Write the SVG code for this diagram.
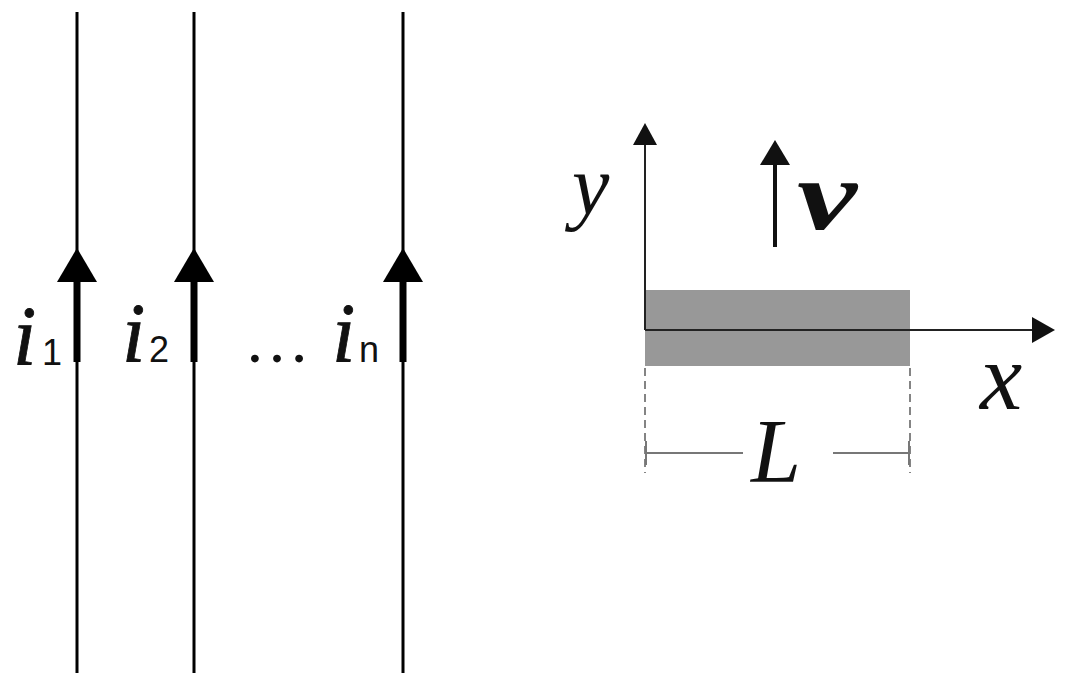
<svg xmlns="http://www.w3.org/2000/svg" width="1068" height="686" viewBox="0 0 1068 686">
<style>
.wire{stroke:#000;stroke-width:3;fill:none}
.thick{stroke:#000;stroke-width:7;fill:none}
.ax{stroke:#222;stroke-width:2;fill:none}
.dash{stroke:#666;stroke-width:1.6;stroke-dasharray:8 5;fill:none}
.dim{stroke:#777;stroke-width:2;fill:none}
.it{font-family:'Liberation Serif','DejaVu Serif',serif;font-style:italic;fill:#111}
.sub{font-family:'Liberation Sans',Arial,sans-serif;fill:#111}
</style>
<rect width="1068" height="686" fill="#fff"/>
<g id="wires">
<g id="wire1">
<line class="wire" x1="77" y1="12" x2="77" y2="673"/>
<line class="thick" x1="77" y1="280" x2="77" y2="362"/>
<polygon points="77,248 57,282 97,282" fill="#000"/>
<text class="it" x="13" y="365" font-size="84" stroke="#111" stroke-width="0.8">i</text>
<text class="sub" x="42" y="365" font-size="36">1</text>
</g>
<g id="wire2">
<line class="wire" x1="194" y1="12" x2="194" y2="673"/>
<line class="thick" x1="194" y1="280" x2="194" y2="362"/>
<polygon points="194,248 174,282 214,282" fill="#000"/>
<text class="it" x="122" y="362" font-size="84" stroke="#111" stroke-width="0.8">i</text>
<text class="sub" x="149" y="362" font-size="36">2</text>
</g>
<text id="ellipsis" x="244" y="362" font-size="66" font-family="'Liberation Serif','DejaVu Serif',serif" fill="#111">…</text>
<g id="wire3">
<line class="wire" x1="403" y1="12" x2="403" y2="673"/>
<line class="thick" x1="403" y1="280" x2="403" y2="362"/>
<polygon points="403,248 383,282 423,282" fill="#000"/>
<text class="it" x="332" y="362" font-size="84" stroke="#111" stroke-width="0.8">i</text>
<text class="sub" x="359" y="362" font-size="36">n</text>
</g>
</g>
<g id="bar">
<rect x="645" y="290" width="265" height="76" fill="#989898"/>
</g>
<g id="axes">
<line class="ax" x1="645" y1="330" x2="645" y2="143"/>
<polygon points="645,123 633,145 657,145" fill="#111"/>
<line class="ax" x1="645" y1="330" x2="1035" y2="330"/>
<polygon points="1055,330 1032,317 1032,343" fill="#111"/>
<text class="it" x="572" y="214" font-size="84">y</text>
<text class="it" x="980" y="409" font-size="95">x</text>
</g>
<g id="velocity">
<line x1="775" y1="247" x2="775" y2="160" stroke="#111" stroke-width="4"/>
<polygon points="775,140 760,165 790,165" fill="#111"/>
<text class="it" x="797" y="229" font-size="100" font-weight="bold" textLength="60" lengthAdjust="spacingAndGlyphs">v</text>
</g>
<g id="dimension">
<line class="dash" x1="645" y1="368" x2="645" y2="473"/>
<line class="dash" x1="910" y1="368" x2="910" y2="473"/>
<line class="dim" x1="646" y1="453" x2="743" y2="453"/>
<line class="dim" x1="833" y1="453" x2="909" y2="453"/>
<line class="dim" x1="646" y1="441" x2="646" y2="465"/>
<line class="dim" x1="909" y1="441" x2="909" y2="465"/>
<text class="it" x="751" y="482" font-size="90">L</text>
</g>
</svg>
